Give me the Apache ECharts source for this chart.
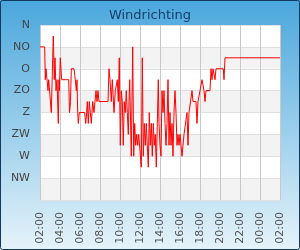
<!DOCTYPE html>
<html><head><meta charset="utf-8">
<script src="https://cdn.jsdelivr.net/npm/echarts@6/dist/echarts.min.js"></script>
<style>html,body{margin:0;padding:0;background:#fff}#c{width:300px;height:250px}</style>
</head><body><div id="c"></div>
<script>
const titleText = 'Windrichting';
const xTickLabels = ['02:00','04:00','06:00','08:00','10:00','12:00','14:00','16:00','18:00','20:00','22:00','00:00','02:00'];
const yTickLabels = ['N','NO','O','ZO','Z','ZW','W','NW'];
// hours since 02:00
const hoursSinceStart = [0,0.47,0.53,0.6,0.7,0.8,0.87,1.0,1.13,1.33,1.43,1.5,1.6,1.7,1.83,1.9,1.93,2.03,2.17,2.87,2.95,
3.05,3.13,3.4,3.53,3.63,3.7,3.77,3.83,3.93,4.47,4.57,4.67,4.73,4.83,4.93,5.03,5.13,5.27,5.4,5.5,5.6,5.7,5.8,5.9,
6.8,6.9,7.0,7.13,7.23,7.33,7.4,7.53,7.63,7.73,7.83,7.93,8.03,8.13,8.23,8.33,8.43,8.53,8.63,8.73,8.83,8.9,8.97,9.13,9.27,
9.37,9.47,9.57,9.67,9.77,9.87,10.0,10.13,10.23,10.33,10.43,10.53,10.63,10.73,10.83,10.93,11.03,11.13,11.23,11.33,11.43,11.53,11.63,11.73,11.83,
11.9,12.0,12.1,12.2,12.3,12.4,12.5,12.6,12.7,12.8,12.9,13.0,13.1,13.2,13.3,13.4,13.5,13.6,13.7,13.8,13.9,14.0,14.1,14.2,14.3,14.4,14.6,14.7,
14.8,14.9,15.0,15.2,15.3,15.6,15.7,15.8,16.0,16.1,16.2,16.3,16.4,16.5,16.6,17.0,17.1,17.2,17.3,17.5,17.6,18.33,18.4,18.5,24];
// wind direction in degrees
const windDegrees = [45,45,112.5,90,90,135,112.5,112.5,180,22.5,112.5,67.5,135,112.5,202.5,112.5,135,67.5,112.5,112.5,180,
157.5,90,90,112.5,135,112.5,180,202.5,180,180,202.5,180,157.5,202.5,157.5,180,202.5,157.5,180,157.5,135,157.5,135,157.5,
157.5,90,112.5,157.5,112.5,112.5,180,135,135,112.5,157.5,67.5,247.5,135,157.5,247.5,157.5,180,135,180,225,157.5,112.5,270,45,
270,202.5,247.5,225,247.5,225,225,292.5,67.5,270,202.5,247.5,202.5,247.5,292.5,180,247.5,202.5,270,202.5,247.5,225,292.5,202.5,112.5,
202.5,247.5,270,135,180,135,202.5,247.5,202.5,112.5,247.5,180,247.5,202.5,270,180,135,180,247.5,225,247.5,225,247.5,270,270,225,225,180,
247.5,180,180,135,157.5,157.5,202.5,157.5,135,135,112.5,112.5,135,157.5,135,135,90,112.5,90,112.5,90,90,112.5,67.5,67.5];

const seriesData = hoursSinceStart.map((h, i) => [h, windDegrees[i]]);
const chart = echarts.init(document.getElementById('c'), null, {renderer: 'canvas'});
chart.setOption({
  animation: false,
  backgroundColor: new echarts.graphic.LinearGradient(0, 0, 0, 1, [
    {offset: 0, color: '#4aa7dc'}, {offset: 1, color: '#e6f3fa'}
  ]),
  title: {text: titleText, left: 'center', top: 4,
    textStyle: {fontFamily: 'DejaVu Sans', fontSize: 13, fontWeight: 'normal', color: '#17406b'}},
  graphic: [{type: 'rect', shape: {x: 0.5, y: 0.5, width: 299, height: 249, r: 2},
    style: {fill: 'none', stroke: '#123a60', lineWidth: 1}, z: 100}],
  grid: {left: 40, right: 20, top: 25, bottom: 50, show: true, backgroundColor: '#ffffff', borderWidth: 0},
  xAxis: {type: 'value', min: 0, max: 24, interval: 2,
    axisLine: {show: false}, axisTick: {show: false},
    splitLine: {show: true, lineStyle: {color: '#c8c8c8', width: 1}},
    axisLabel: {rotate: 90, margin: 12, fontFamily: 'DejaVu Sans', fontSize: 11, color: '#555',
      formatter: v => xTickLabels[Math.round(v / 2)]}},
  yAxis: {type: 'value', min: 0, max: 360, interval: 45, inverse: true,
    axisLine: {show: false}, axisTick: {show: false},
    splitLine: {show: true, lineStyle: {color: '#e0e0e0', width: 1}},
    splitArea: {show: true, areaStyle: {color: ['#ffffff', '#f3f3f3']}},
    axisLabel: {margin: 10, fontFamily: 'DejaVu Sans', fontSize: 11, color: '#444',
      formatter: v => yTickLabels[Math.round(v / 45)] || ''}},
  series: [{type: 'line', data: seriesData, symbol: 'none', lineStyle: {color: '#ff0000', width: 1}}]
});
</script></body></html>
